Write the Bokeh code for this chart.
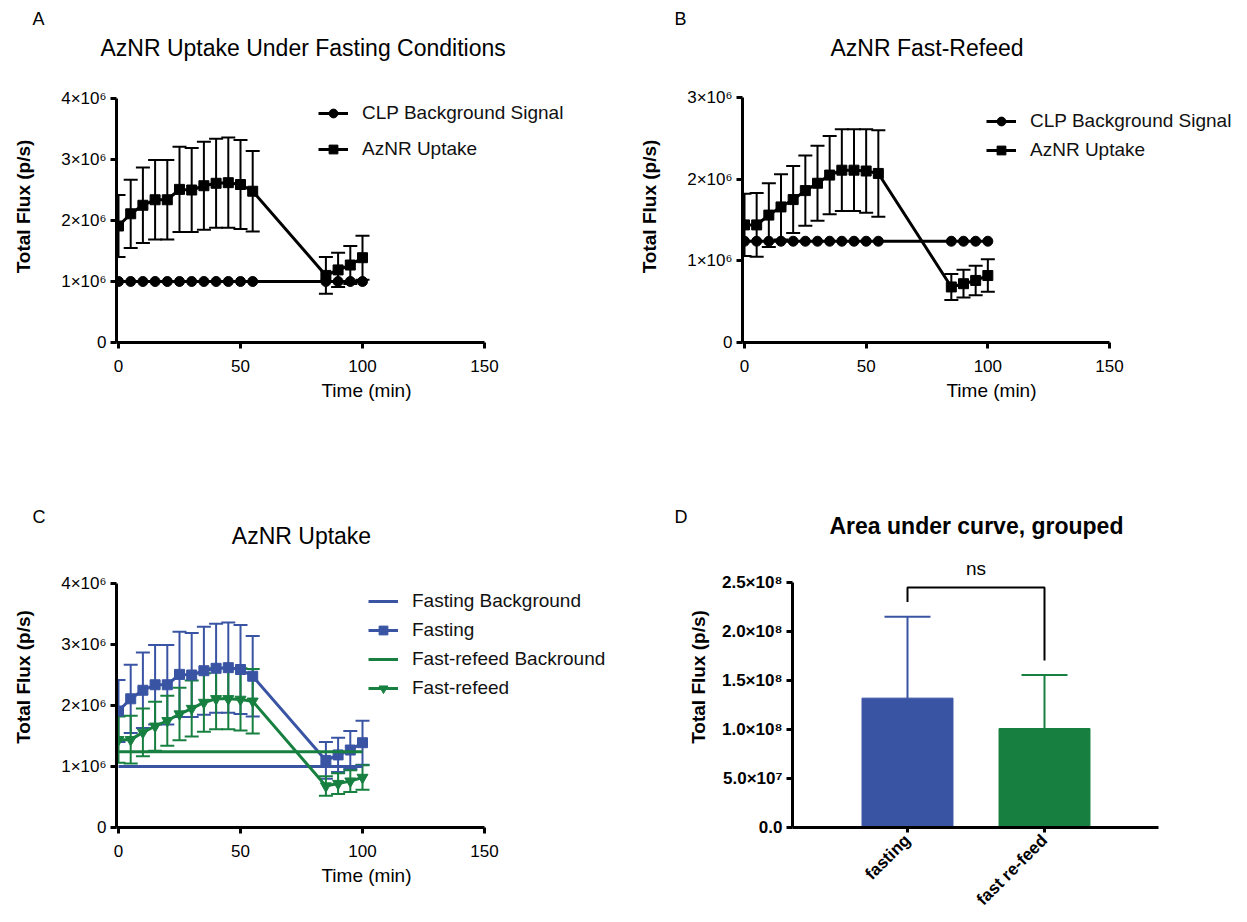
import math
from bokeh.plotting import figure
from bokeh.models import (ColumnDataSource, Whisker, TeeHead, Legend, LegendItem, Label,
                          FixedTicker, Range1d, Title)
from bokeh.layouts import column, row
from bokeh.embed import file_html
from bokeh.resources import INLINE

FONT = "Liberation Sans"
BLUE = "#3A54A4"
GREEN = "#178040"

# ---------------- data ----------------
time_min = [0, 5, 10, 15, 20, 25, 30, 35, 40, 45, 50, 55, 85, 90, 95, 100]

fasting_mean = [1.91e6, 2.11e6, 2.25e6, 2.34e6, 2.34e6, 2.51e6, 2.50e6, 2.57e6,
                2.61e6, 2.62e6, 2.59e6, 2.48e6, 1.10e6, 1.19e6, 1.27e6, 1.39e6]
fasting_sem = [0.51e6, 0.56e6, 0.62e6, 0.65e6, 0.65e6, 0.70e6, 0.69e6, 0.72e6,
               0.73e6, 0.74e6, 0.73e6, 0.66e6, 0.30e6, 0.28e6, 0.31e6, 0.36e6]
fasting_bg = [1.0e6, 1.0e6, 1.0e6, 1.0e6, 1.0e6, 1.0e6, 1.0e6, 1.0e6,
              1.0e6, 1.0e6, 1.0e6, 1.0e6, 1.0e6, 1.0e6, 1.0e6, 1.0e6]

refeed_mean = [1.44e6, 1.44e6, 1.56e6, 1.66e6, 1.75e6, 1.86e6, 1.95e6, 2.05e6,
               2.11e6, 2.11e6, 2.10e6, 2.07e6, 0.68e6, 0.72e6, 0.76e6, 0.82e6]
refeed_sem = [0.38e6, 0.39e6, 0.39e6, 0.40e6, 0.41e6, 0.43e6, 0.46e6, 0.48e6,
              0.50e6, 0.50e6, 0.51e6, 0.53e6, 0.16e6, 0.17e6, 0.18e6, 0.20e6]
refeed_bg = [1.24e6, 1.24e6, 1.24e6, 1.24e6, 1.24e6, 1.24e6, 1.24e6, 1.24e6,
             1.24e6, 1.24e6, 1.24e6, 1.24e6, 1.24e6, 1.24e6, 1.24e6, 1.24e6]

auc_groups = ["fasting", "fast re-feed"]
auc_mean = [1.32e8, 1.01e8]
auc_sem = [0.83e8, 0.545e8]

time_ticks = [0, 50, 100, 150]
flux_ticks_4 = [0, 1000000, 2000000, 3000000, 4000000]
flux_labels_4 = ["0", "1×10⁶", "2×10⁶", "3×10⁶", "4×10⁶"]
flux_ticks_3 = [0, 1000000, 2000000, 3000000]
flux_labels_3 = ["0", "1×10⁶", "2×10⁶", "3×10⁶"]
auc_ticks = [0, 50000000, 100000000, 150000000, 200000000, 250000000]
auc_labels = ["0.0", "5.0×10⁷", "1.0×10⁸", "1.5×10⁸", "2.0×10⁸", "2.5×10⁸"]


class Panel:
    """Figure whose frame sits at given page pixels; x0/y0 = pixel of data origin."""

    def __init__(self, fx, fy, W, H, L, R, T, B, x0, kx, y0, ky):
        self.x0, self.kx, self.y0, self.ky = x0, kx, y0, ky
        xr = Range1d((L - x0) / kx, (R - x0) / kx)
        yr = Range1d((y0 - B) / ky, (y0 - T) / ky)
        p = figure(width=W, height=H, x_range=xr, y_range=yr,
                   output_backend="svg", toolbar_location=None,
                   min_border_left=L - fx, min_border_right=fx + W - R,
                   min_border_top=T - fy, min_border_bottom=fy + H - B)
        p.outline_line_color = None
        p.xgrid.visible = False
        p.ygrid.visible = False
        p.background_fill_color = "white"
        p.border_fill_color = "white"
        for ax in p.axis:
            ax.axis_line_width = 3
            ax.axis_line_color = "black"
            ax.major_tick_line_width = 3
            ax.major_tick_line_color = "black"
            ax.major_tick_out = 6
            ax.major_tick_in = 0
            ax.minor_tick_line_color = None
            ax.major_label_text_font = FONT
            ax.major_label_text_font_size = "17px"
            ax.major_label_text_color = "black"
            ax.axis_label_text_font = FONT
            ax.axis_label_text_color = "black"
            ax.axis_label_text_font_size = "19px"
        self.p = p
        self.xstart = xr.start

    def dx(self, wx):
        return (wx - self.x0) / self.kx

    def dy(self, wy):
        return (self.y0 - wy) / self.ky

    def text(self, wx, wy, txt, size, style="normal"):
        self.p.add_layout(Label(x=self.dx(wx), y=self.dy(wy), text=txt, text_font=FONT,
                                text_font_size=size, text_font_style=style,
                                text_align="center", text_baseline="middle",
                                text_color="black"))

    def head(self, txt, offset, standoff, size, style="normal"):
        # stacked in the band above the frame; first call sits nearest the frame
        self.p.add_layout(Title(text=txt, align="left", offset=offset, standoff=standoff,
                                vertical_align="middle", text_font=FONT,
                                text_font_size=size, text_font_style=style,
                                text_color="black"), "above")


def style_time_axes(P, yticks, ylabels):
    p = P.p
    p.xaxis.ticker = FixedTicker(ticks=time_ticks)
    p.xaxis.bounds = (P.xstart, time_ticks[-1])
    p.xaxis.axis_label = "Time (min)"
    p.xaxis.axis_label_text_font_style = "normal"
    p.xaxis.major_label_standoff = 11
    p.xaxis.axis_label_standoff = 5
    p.yaxis.ticker = FixedTicker(ticks=yticks)
    p.yaxis.bounds = (0, yticks[-1])
    p.yaxis.major_label_overrides = {t: l for t, l in zip(yticks, ylabels)}
    p.yaxis.axis_label = "Total Flux (p/s)"
    p.yaxis.axis_label_text_font_style = "bold"
    p.yaxis.major_label_standoff = 4
    p.yaxis.axis_label_standoff = 24


def make_legend(p, items, loc, spacing):
    lg = Legend(items=items, location=loc, padding=0, margin=0, spacing=spacing,
                glyph_width=30, glyph_height=22, label_height=22, label_standoff=14,
                label_text_font=FONT, label_text_font_size="19px",
                label_text_color="#111111", border_line_color=None,
                background_fill_alpha=0)
    p.add_layout(lg)


def whiskers(p, mean, sem, color, size=14):
    src = ColumnDataSource(dict(t=time_min,
                                lo=[m - s for m, s in zip(mean, sem)],
                                hi=[m + s for m, s in zip(mean, sem)]))
    p.add_layout(Whisker(source=src, base="t", lower="lo", upper="hi", dimension="height",
                         line_color=color, line_width=2,
                         upper_head=TeeHead(size=size, line_color=color, line_width=2),
                         lower_head=TeeHead(size=size, line_color=color, line_width=2)))


# ---------------- Panel A ----------------
A = Panel(0, 0, 620, 460, 116, 616, 70, 342, 118, 2.44, 342, 61 / 1e6)
pA = A.p
style_time_axes(A, flux_ticks_4, flux_labels_4)
whiskers(pA, fasting_mean, fasting_sem, "black")
a_bg_l = pA.line(time_min, fasting_bg, line_width=3, color="black")
a_bg_s = pA.scatter(time_min, fasting_bg, marker="circle", size=10, color="black")
a_up_l = pA.line(time_min, fasting_mean, line_width=3, color="black")
a_up_s = pA.scatter(time_min, fasting_mean, marker="square", size=10, color="black")
make_legend(pA, [LegendItem(label="CLP Background Signal", renderers=[a_bg_l, a_bg_s]),
                 LegendItem(label="AzNR Uptake", renderers=[a_up_l, a_up_s])],
            (202, 182), 14)
A.head("AzNR Uptake Under Fasting Conditions", -16, 18, "23px")
A.head("A", -84, -10, "18px")

# ---------------- Panel B ----------------
B = Panel(620, 0, 620, 460, 742, 1240, 70, 342, 744, 365 / 150, 342, 245 / 3e6)
pB = B.p
style_time_axes(B, flux_ticks_3, flux_labels_3)
whiskers(pB, refeed_mean, refeed_sem, "black")
b_bg_l = pB.line(time_min, refeed_bg, line_width=3, color="black")
b_bg_s = pB.scatter(time_min, refeed_bg, marker="circle", size=10, color="black")
b_up_l = pB.line(time_min, refeed_mean, line_width=3, color="black")
b_up_s = pB.scatter(time_min, refeed_mean, marker="square", size=10, color="black")
make_legend(pB, [LegendItem(label="CLP Background Signal", renderers=[b_bg_l, b_bg_s]),
                 LegendItem(label="AzNR Uptake", renderers=[b_up_l, b_up_s])],
            (244, 181), 7)
B.head("AzNR Fast-Refeed", 88, 18, "23px")
B.head("B", -68, -10, "18px")

# ---------------- Panel C ----------------
C = Panel(0, 460, 620, 460, 116, 616, 526, 827, 118, 2.44, 827, 61 / 1e6)
pC = C.p
style_time_axes(C, flux_ticks_4, flux_labels_4)
whiskers(pC, fasting_mean, fasting_sem, BLUE)
whiskers(pC, refeed_mean, refeed_sem, GREEN)
c_fbg = pC.line(time_min, fasting_bg, line_width=3, color=BLUE)
c_f_l = pC.line(time_min, fasting_mean, line_width=3, color=BLUE)
c_f_s = pC.scatter(time_min, fasting_mean, marker="square", size=10, color=BLUE)
c_rbg = pC.line(time_min, refeed_bg, line_width=3, color=GREEN)
c_r_l = pC.line(time_min, refeed_mean, line_width=3, color=GREEN)
c_r_s = pC.scatter(time_min, refeed_mean, marker="inverted_triangle", size=11, color=GREEN)
make_legend(pC, [LegendItem(label="Fasting Background", renderers=[c_fbg]),
                 LegendItem(label="Fasting", renderers=[c_f_l, c_f_s]),
                 LegendItem(label="Fast-refeed Backround", renderers=[c_rbg]),
                 LegendItem(label="Fast-refeed", renderers=[c_r_l, c_r_s])],
            (252, 128), 7)
C.text(301, 535, "AzNR Uptake", "23px")
C.head("C", -84, -2, "18px")

# ---------------- Panel D ----------------
D = Panel(620, 460, 620, 460, 792, 1240, 526, 827, 907, 137, 827, 98 / 1e8)
pD = D.p
bar_x = [0, 1]
pD.xaxis.ticker = FixedTicker(ticks=bar_x)
pD.xaxis.bounds = (D.xstart, D.dx(1158))
pD.xaxis.major_label_overrides = {0: auc_groups[0], 1: auc_groups[1]}
pD.xaxis.major_label_orientation = math.pi / 4
pD.xaxis.major_label_text_font_style = "bold"
pD.xaxis.major_label_standoff = 5
pD.xaxis.major_tick_out = 5
pD.yaxis.ticker = FixedTicker(ticks=auc_ticks)
pD.yaxis.major_label_overrides = {t: l for t, l in zip(auc_ticks, auc_labels)}
pD.yaxis.major_label_text_font_style = "bold"
pD.yaxis.bounds = (0, auc_ticks[-1])
pD.yaxis.axis_label = "Total Flux (p/s)"
pD.yaxis.axis_label_text_font_style = "bold"
pD.yaxis.major_label_standoff = 4
pD.yaxis.axis_label_standoff = 10

bar_colors = [BLUE, GREEN]
for i in range(2):
    src = ColumnDataSource(dict(t=[bar_x[i]], lo=[auc_mean[i]], hi=[auc_mean[i] + auc_sem[i]]))
    pD.add_layout(Whisker(source=src, base="t", lower="lo", upper="hi", dimension="height",
                          line_color=bar_colors[i], line_width=2, lower_head=None,
                          upper_head=TeeHead(size=46, line_color=bar_colors[i], line_width=2)))
pD.vbar(x=bar_x, top=auc_mean, width=0.664, fill_color=bar_colors,
        line_color=bar_colors, line_width=1)

# significance bracket derived from bar tops
tops = [m + s for m, s in zip(auc_mean, auc_sem)]
gap = 0.15e8
bracket_y = max(tops) + 0.30e8
pD.line([bar_x[0], bar_x[0], bar_x[1], bar_x[1]],
        [tops[0] + gap, bracket_y, bracket_y, tops[1] + gap],
        line_width=2, color="black")
pD.add_layout(Label(x=(bar_x[0] + bar_x[1]) / 2, y=D.dy(568), text="ns", text_font=FONT,
                    text_font_size="19px", text_align="center", text_baseline="middle",
                    text_color="black"))
D.head("Area under curve, grouped", 37, -26, "23px", "bold")
D.head("D", -118, -6, "18px")

layout = column(row(pA, pB), row(pC, pD))
open("out.html", "w").write(file_html(layout, INLINE))
